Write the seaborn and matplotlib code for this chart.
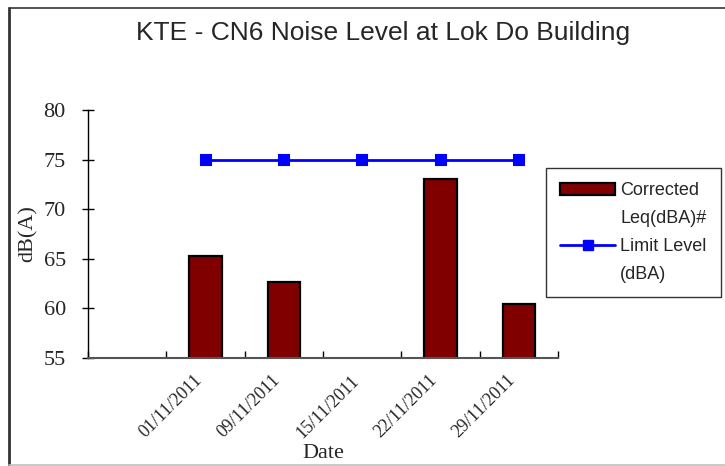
import numpy as np
import pandas as pd
import seaborn as sns
import matplotlib.pyplot as plt
import matplotlib.transforms as mtransforms
from matplotlib.lines import Line2D
from matplotlib.patches import Patch

# data
dates = ["", "01/11/2011", "09/11/2011", "15/11/2011", "22/11/2011", "29/11/2011"]
leq = [np.nan, 65.3, 62.7, np.nan, 73.0, 60.4]
limit = [np.nan, 75, 75, 75, 75, 75]
legend_lines = ["Corrected", "Leq(dBA)#", "Limit Level", "(dBA)"]

df = pd.DataFrame({"Date": dates, "Leq": leq, "Limit": limit})

sns.set_style("white")
plt.rcParams["font.family"] = ["Liberation Serif", "DejaVu Serif"]

fig = plt.figure(figsize=(7.25, 4.66), dpi=100)
ax = fig.add_axes([88 / 725, 1 - 358 / 466, (558 - 88) / 725, (358 - 110) / 466])

sns.barplot(data=df.dropna(subset=["Leq"]), x="Date", y="Leq", order=dates,
            color="#800000", saturation=1, width=0.41, edgecolor="black",
            linewidth=1.6, errorbar=None, ax=ax)
sns.pointplot(data=df.dropna(subset=["Limit"]), x="Date", y="Limit", order=dates,
              color="#0000ff", markers="s", markersize=7, linewidth=2,
              errorbar=None, ax=ax)

ax.set_xlim(-0.5, len(dates) - 0.5)
ax.set_ylim(55, 80)
ax.set_yticks([55, 60, 65, 70, 75, 80])
ax.tick_params(axis="y", labelsize=16, direction="inout", length=8,
               width=1, color="black", left=True, pad=12)
ax.set_xticks(range(len(dates)))
ax.set_xticklabels(dates, rotation=45, ha="right", rotation_mode="anchor",
                   fontsize=13)
ax.tick_params(axis="x", length=0, pad=10)
shift = mtransforms.ScaledTranslation(-12 / 100, 0, fig.dpi_scale_trans)
for lab in ax.get_xticklabels():
    lab.set_transform(lab.get_transform() + shift)
ax.set_xticks(np.arange(-0.5, len(dates), 1), minor=True)
ax.tick_params(axis="x", which="minor", direction="in", length=5,
               width=1, color="black", bottom=True)
for s in ["top", "right"]:
    ax.spines[s].set_visible(False)
ax.spines["left"].set_color("black")
ax.spines["bottom"].set_color("#555555")
ax.spines["left"].set_linewidth(1)
ax.spines["bottom"].set_linewidth(1.5)
ax.set_xlabel("Date", fontsize=16, labelpad=2)
ax.set_ylabel("dB(A)", fontsize=16, labelpad=4)

fig.text(383 / 725, 1 - 33 / 466, "KTE - CN6 Noise Level at Lok Do Building",
         ha="center", va="center", fontsize=19, family="Liberation Sans")

# one legend row per text line so each marker sits by the first line
blank = Line2D([0], [0], color="none")
handles = [Patch(facecolor="#800000", edgecolor="black", linewidth=1.6), blank,
           Line2D([0], [0], color="#0000ff", lw=2, marker="s", markersize=7), blank]
leg = fig.legend(handles, legend_lines,
                 loc="upper left", bbox_to_anchor=(546 / 725, 1 - 168 / 466),
                 borderaxespad=0, frameon=True, fancybox=False,
                 edgecolor="black",
                 prop={"family": "Liberation Sans", "size": 13},
                 handlelength=3.0, handletextpad=0.3, labelspacing=0.6,
                 borderpad=0.8)
leg.get_frame().set_linewidth(1)

# outer chart frame
fig.add_artist(Line2D([9 / 725, 9 / 725], [1 - 8 / 466, 0], color="#333333",
                      lw=2, transform=fig.transFigure))
fig.add_artist(Line2D([9 / 725, 1], [1 - 8 / 466, 1 - 8 / 466], color="#333333",
                      lw=1.2, transform=fig.transFigure))
fig.add_artist(Line2D([9 / 725, 1], [1.5 / 466, 1.5 / 466], color="#c0c0c0",
                      lw=1.2, transform=fig.transFigure))

fig.savefig("out.png", dpi=100)
plt.close()
